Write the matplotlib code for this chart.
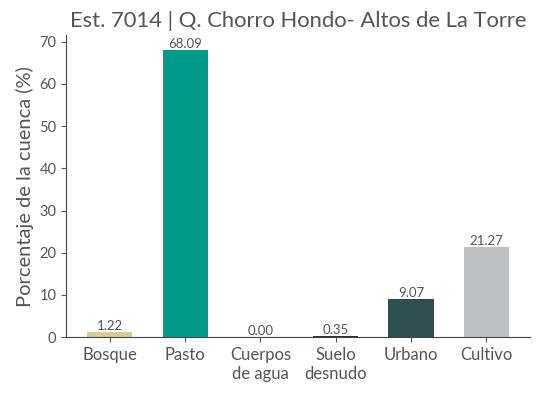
import numpy as np
import matplotlib.pyplot as plt

plt.rcParams['font.family'] = ['Lato', 'DejaVu Sans']

# data
categorias = ["Bosque", "Pasto", "Cuerpos\nde agua", "Suelo\ndesnudo", "Urbano", "Cultivo"]
porcentajes = [1.22, 68.09, 0.00, 0.35, 9.07, 21.27]
colores = ["#d8cb98", "#009887", "#3a6ea5", "#1d3b1d", "#2f4f4f", "#bdc1c4"]

gris = "#555555"

fig, ax = plt.subplots(figsize=(5.38, 3.93), dpi=100)
x = np.arange(len(categorias))
bars = ax.bar(x, porcentajes, width=0.6, color=colores)

for b, v in zip(bars, porcentajes):
    ax.text(b.get_x() + b.get_width() / 2, v, f"{v:.2f}", ha="center", va="bottom",
            fontsize=9.5, color=gris)

ax.set_xticks(x)
ax.set_xticklabels(categorias, fontsize=12, color=gris)
ax.tick_params(axis="y", labelsize=10.5, colors=gris)
ax.tick_params(axis="x", colors=gris)
ax.set_ylim(0, 71.5)
ax.set_ylabel("Porcentaje de la cuenca (%)", fontsize=14.5, color=gris)
ax.set_title("Est. 7014 | Q. Chorro Hondo- Altos de La Torre", fontsize=15.8, color=gris)
for s in ["top", "right"]:
    ax.spines[s].set_visible(False)
for s in ["left", "bottom"]:
    ax.spines[s].set_color("#444444")

fig.subplots_adjust(left=0.123, right=0.985, top=0.91, bottom=0.142)
fig.savefig("out.png")
